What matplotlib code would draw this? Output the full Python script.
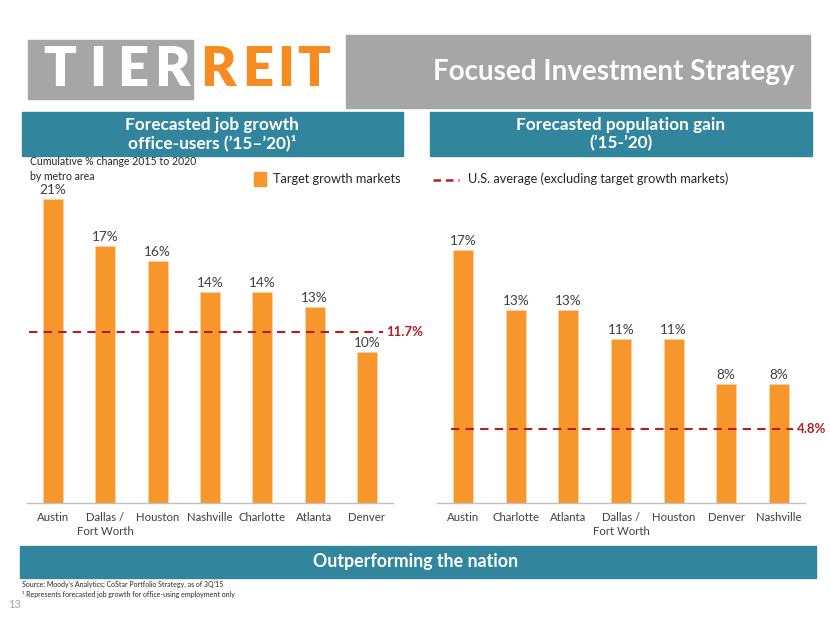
import matplotlib.pyplot as plt
from matplotlib.patches import Rectangle

# data
job_cities = ["Austin", "Dallas /\nFort Worth", "Houston", "Nashville", "Charlotte", "Atlanta", "Denver"]
job_growth = [20.1, 17, 16, 14, 14, 13, 10]
job_labels = ["21%", "17%", "16%", "14%", "14%", "13%", "10%"]
job_us_avg = 11.3
job_us_label = "11.7%"

pop_cities = ["Austin", "Charlotte", "Atlanta", "Dallas /\nFort Worth", "Houston", "Denver", "Nashville"]
pop_gain = [17, 13, 13, 11, 11, 8, 8]
pop_labels = ["17%", "13%", "13%", "11%", "11%", "8%", "8%"]
pop_us_avg = 5.0
pop_us_label = "4.8%"

W, H = 830, 623
ORANGE = "#F7962B"
TEAL = "#31859C"
GRAY = "#A6A6A6"
RED = "#B01E23"
TXT = "#404040"
HEAD = ["Lato", "DejaVu Sans"]
BODY = ["Lato", "DejaVu Sans"]


def fx(x):
    return x / W


def fy(y):
    return 1 - y / H


fig = plt.figure(figsize=(W / 100, H / 100), dpi=100)


def box(x0, y0, x1, y1, color):
    fig.patches.append(Rectangle((fx(x0), fy(y1)), fx(x1 - x0), (y1 - y0) / H,
                                 transform=fig.transFigure, color=color, zorder=0))


def ptext(x, y, s, **kw):
    fig.text(fx(x), fy(y), s, **kw)


# logo
box(28, 40, 193, 99, GRAY)
for ch, cx in zip("TIER", [60, 98, 133, 172]):
    ptext(cx, 70, ch, color="white", fontsize=39, fontweight="heavy", family=HEAD,
          ha="center", va="center")
for ch, cx in zip("REIT", [218, 258, 286, 314]):
    ptext(cx, 70, ch, color="#F68B1F", fontsize=39, fontweight="heavy", family=HEAD,
          ha="center", va="center")

# title box
box(346, 35, 810, 108, GRAY)
ptext(795, 72, "Focused Investment Strategy", color="white", fontsize=20,
      fontweight="bold", family=HEAD, ha="right", va="center")

# chart headers
box(22, 112, 403, 156, TEAL)
ptext(212, 134, "Forecasted job growth\noffice-users (\u201915\u2013\u201920)\u00b9", color="white",
      fontsize=12.4, fontweight="bold", family=HEAD, ha="center", va="center", linespacing=1.1)
box(430, 112, 812, 156, TEAL)
ptext(621, 134, "Forecasted population gain\n(\u201915-\u201920)", color="white",
      fontsize=12.4, fontweight="bold", family=HEAD, ha="center", va="center", linespacing=1.1)

ptext(30, 169, "Cumulative % change 2015 to 2020\nby metro area", color="#262626",
      fontsize=7.6, family=BODY, ha="left", va="center", linespacing=1.45)

# legends
box(254, 172, 266, 186, ORANGE)
ptext(273, 179, "Target growth markets", color="#262626", fontsize=9.2, family=BODY,
      ha="left", va="center")
fig.lines.append(plt.Line2D([fx(433), fx(459)], [fy(180), fy(180)], transform=fig.transFigure,
                            color=RED, lw=1.8, ls=(0, (3, 2))))
ptext(468, 179, "U.S. average (excluding target growth markets)", color="#262626",
      fontsize=9.2, family=BODY, ha="left", va="center")

# bottom banner and notes
box(20, 546, 816, 578, TEAL)
ptext(416, 562, "Outperforming the nation", color="white", fontsize=12.8, fontweight="bold",
      family=HEAD, ha="center", va="center")
ptext(22, 584, "Source: Moody\u2019s Analytics; CoStar Portfolio Strategy, as of 3Q\u201915",
      color="#262626", fontsize=5, family=BODY, ha="left", va="center")
ptext(22, 595, "\u00b9 Represents forecasted job growth for office-using employment only",
      color="#262626", fontsize=5, family=BODY, ha="left", va="center")
ptext(8, 605, "13", color="#A6A6A6", fontsize=8, family=BODY, ha="left", va="center")


def bar_chart(x0, x1, scale, cats, vals, labels, avg, avg_label, line_from, line_to):
    top, base = 185, 503
    ax = fig.add_axes([fx(x0), fy(base), fx(x1 - x0), (base - top) / H])
    pos = range(len(cats))
    ax.bar(pos, vals, width=0.38, color=ORANGE, edgecolor="#FBD3A6", linewidth=0.6, zorder=2)
    for p, v, lab in zip(pos, vals, labels):
        ax.text(p, v + 0.2, lab, ha="center", va="bottom", fontsize=9.8, color=TXT,
                family=BODY)
    ax.set_xlim(-0.5, len(cats) - 0.5)
    ax.set_ylim(0, (base - top) / scale)
    xa, xb = (line_from - x0) / (x1 - x0), (line_to - x0) / (x1 - x0)
    ax.axhline(avg, xmin=xa, xmax=xb, color=RED, lw=1.5, ls=(0, (4, 3)), zorder=3)
    ax.text(xb + 0.01, avg, avg_label, transform=ax.get_yaxis_transform(), color=RED,
            fontsize=9.5, fontweight="bold", family=BODY, ha="left", va="center", clip_on=False)
    ax.set_xticks(list(pos))
    ax.set_xticklabels(cats, fontsize=8.2, color=TXT, family=BODY, linespacing=1.3)
    ax.tick_params(axis="x", length=0, pad=6.5)
    ax.set_yticks([])
    for s in ["top", "right", "left"]:
        ax.spines[s].set_visible(False)
    ax.spines["bottom"].set_color("#BFBFBF")
    ax.spines["bottom"].set_linewidth(1)
    ax.patch.set_alpha(0)
    return ax


bar_chart(27, 393, 15.1, job_cities, job_growth, job_labels, job_us_avg, job_us_label, 29, 383)
bar_chart(437, 805, 14.87, pop_cities, pop_gain, pop_labels, pop_us_avg, pop_us_label, 451, 793)

fig.savefig("out.png", dpi=100)
